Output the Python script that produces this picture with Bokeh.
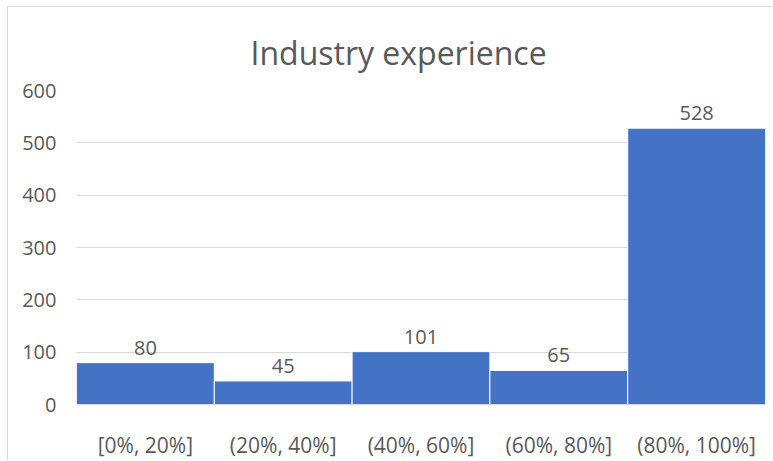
from bokeh.plotting import figure
from bokeh.models import ColumnDataSource, FixedTicker, Range1d
from bokeh.core.properties import value
from bokeh.embed import file_html
from bokeh.resources import INLINE

title = "Industry experience"
categories = ["[0%, 20%]", "(20%, 40%]", "(40%, 60%]", "(60%, 80%]", "(80%, 100%]"]
counts = [80, 45, 101, 65, 528]
y_ticks = [0, 100, 200, 300, 400, 500, 600]

FONT = "Open Sans"
GRAY = "#595959"

src = ColumnDataSource(dict(cat=categories, n=counts, lbl=[str(c) for c in counts]))

p = figure(x_range=categories, y_range=Range1d(0, 600), width=765, height=454,
           output_backend="svg", toolbar_location=None,
           min_border_left=68, min_border_right=8, min_border_top=83, min_border_bottom=57)
p.styles = {"margin-left": "7px", "margin-top": "6px",
            "border-left": "1px solid #d9d9d9", "border-top": "1px solid #d9d9d9"}
p.title.text = title
p.title.align = "left"
p.title.offset = 174
p.title.vertical_align = "top"
p.title.text_font = FONT
p.title.text_font_size = "32px"
p.title.text_font_style = "normal"
p.title.text_color = GRAY
p.title.standoff = 30

p.x_range.range_padding = 0
p.outline_line_color = None
p.background_fill_color = "white"
p.border_fill_color = "white"

p.vbar(x="cat", top="n", width=1.0, source=src, fill_color="#4472C4",
       line_color="white", line_width=1)
p.text(x="cat", y="n", text="lbl", source=src, text_align="center",
       text_baseline="bottom", y_offset=-8, text_font=value(FONT),
       text_font_size="20px", text_color=GRAY)

p.xgrid.grid_line_color = None
p.ygrid.grid_line_color = "#d9d9d9"
p.ygrid.grid_line_width = 1
p.yaxis.ticker = FixedTicker(ticks=y_ticks)
for ax in (p.xaxis, p.yaxis):
    ax.major_tick_line_color = None
    ax.minor_tick_line_color = None
    ax.major_label_text_font = FONT
    ax.major_label_text_color = GRAY
p.yaxis.major_label_text_font_size = "20px"
p.xaxis.major_label_text_font_size = "21px"
p.yaxis.axis_line_color = None
p.yaxis.major_label_standoff = 14
p.xaxis.axis_line_color = "#d9d9d9"
p.xaxis.major_label_standoff = 20

open("out.html", "w").write(file_html(p, INLINE))
